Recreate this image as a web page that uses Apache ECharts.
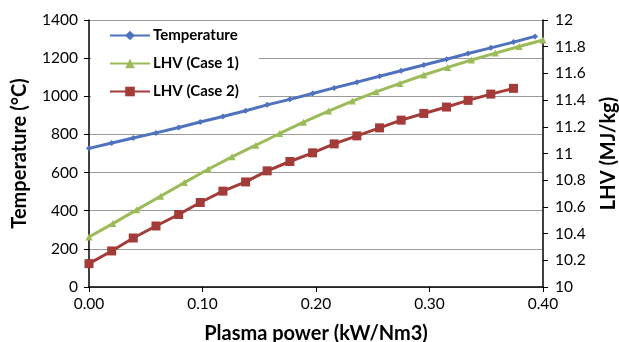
<!DOCTYPE html>
<html>
<head>
<meta charset="utf-8">
<script src="https://cdn.jsdelivr.net/npm/echarts@6/dist/echarts.min.js"></script>
<style>
  html, body { margin: 0; padding: 0; background: #fff; }
  #chart { width: 619px; height: 342px; }
</style>
</head>
<body>
<div id="chart"></div>
<script>
  // plasma power (kW/Nm3) for each curve
  var powerTemp = [0, 0.020, 0.039, 0.059, 0.079, 0.098, 0.118, 0.138, 0.157, 0.177, 0.197,
                   0.216, 0.236, 0.256, 0.275, 0.295, 0.315, 0.334, 0.354, 0.374, 0.393];
  var powerCase1 = [0, 0.021, 0.042, 0.063, 0.084, 0.105, 0.126, 0.147, 0.168, 0.189,
                    0.211, 0.232, 0.253, 0.274, 0.295, 0.316, 0.337, 0.358, 0.379, 0.400];
  var powerCase2 = [0, 0.020, 0.039, 0.059, 0.079, 0.098, 0.118, 0.138, 0.157, 0.177,
                    0.197, 0.216, 0.236, 0.256, 0.275, 0.295, 0.315, 0.334, 0.354, 0.374];

  // temperature (°C), left axis
  var temperature = [727, 755, 781, 808, 836, 865, 894, 924, 955, 984, 1015,
                     1044, 1074, 1105, 1134, 1164, 1194, 1224, 1254, 1284, 1314];
  // LHV (MJ/kg), right axis
  var lhvCase1 = [10.375, 10.475, 10.578, 10.680, 10.782, 10.882, 10.975, 11.062, 11.150, 11.235,
                  11.318, 11.393, 11.462, 11.525, 11.588, 11.645, 11.700, 11.752, 11.802, 11.850];
  var lhvCase2 = [10.175, 10.270, 10.367, 10.457, 10.543, 10.633, 10.718, 10.787, 10.870, 10.940,
                  11.005, 11.072, 11.132, 11.192, 11.250, 11.300, 11.348, 11.398, 11.445, 11.488];

  var seriesNames = ['Temperature', 'LHV (Case 1)', 'LHV (Case 2)'];

  function pairs(xs, ys) {
    return ys.map(function (v, i) { return [xs[i], v]; });
  }

  var font = 'Lato, "Open Sans", sans-serif';
  var titleStyle = { fontFamily: font, fontSize: 20, fontWeight: 'bold', color: '#000' };
  var myChart = echarts.init(document.getElementById('chart'));
  var option = {
    backgroundColor: '#fff',
    animation: false,
    textStyle: { fontFamily: font },
    grid: { left: 89, right: 76, top: 20, bottom: 55, containLabel: false, outerBoundsMode: 'none' },
    legend: {
      data: seriesNames,
      orient: 'vertical',
      left: 91,
      top: 23,
      padding: [5, 20, 3, 18],
      itemWidth: 40,
      itemHeight: 12,
      itemGap: 13,
      backgroundColor: '#fff',
      z: 10,
      textStyle: { fontFamily: font, fontSize: 15, fontWeight: 'bold', color: '#000', padding: [0, 0, 0, -2] }
    },
    xAxis: {
      type: 'value',
      min: 0,
      max: 0.4,
      interval: 0.1,
      name: 'Plasma power (kW/Nm3)',
      nameLocation: 'middle',
      nameGap: 37,
      nameTextStyle: titleStyle,
      axisLine: { lineStyle: { color: '#000', width: 1.5 } },
      axisTick: { inside: false, length: 5, lineStyle: { color: '#000' } },
      axisLabel: {
        fontFamily: font, fontSize: 15.5, color: '#000', margin: 9,
        formatter: function (v) { return v.toFixed(2); }
      },
      splitLine: { show: false }
    },
    yAxis: [{
      type: 'value',
      min: 0,
      max: 1400,
      interval: 200,
      name: 'Temperature (°C)',
      nameLocation: 'middle',
      nameRotate: 90,
      nameGap: 59,
      nameTextStyle: titleStyle,
      axisLine: { show: true, lineStyle: { color: '#000', width: 1.5 } },
      axisTick: { show: true, length: 5, lineStyle: { color: '#000' } },
      axisLabel: {
        fontFamily: font, fontSize: 15.5, color: '#000', margin: 11,
        formatter: function (v) { return String(v); }
      },
      splitLine: { show: true, lineStyle: { color: '#9a9a9a', width: 1.2 } }
    }, {
      type: 'value',
      position: 'right',
      min: 10,
      max: 12,
      interval: 0.2,
      name: 'LHV (MJ/kg)',
      nameLocation: 'middle',
      nameRotate: 90,
      nameGap: 56,
      nameTextStyle: titleStyle,
      axisLine: { show: true, lineStyle: { color: '#000', width: 1.5 } },
      axisTick: { show: true, length: 5, lineStyle: { color: '#000' } },
      axisLabel: {
        fontFamily: font, fontSize: 15.5, color: '#000', margin: 12,
        formatter: function (v) { return String(parseFloat(v.toFixed(1))); }
      },
      splitLine: { show: false }
    }],
    series: [{
      name: seriesNames[0],
      type: 'line',
      yAxisIndex: 0,
      symbol: 'diamond',
      symbolSize: 6,
      lineStyle: { width: 3 },
      data: pairs(powerTemp, temperature)
    }, {
      name: seriesNames[1],
      type: 'line',
      yAxisIndex: 1,
      symbol: 'triangle',
      symbolSize: 7,
      lineStyle: { width: 3 },
      data: pairs(powerCase1, lhvCase1)
    }, {
      name: seriesNames[2],
      type: 'line',
      yAxisIndex: 1,
      symbol: 'rect',
      symbolSize: 9,
      lineStyle: { width: 3 },
      data: pairs(powerCase2, lhvCase2)
    }],
    color: ['#4F72BE', '#9BBB59', '#A33B38']
  };
  myChart.setOption(option);
</script>
</body>
</html>
